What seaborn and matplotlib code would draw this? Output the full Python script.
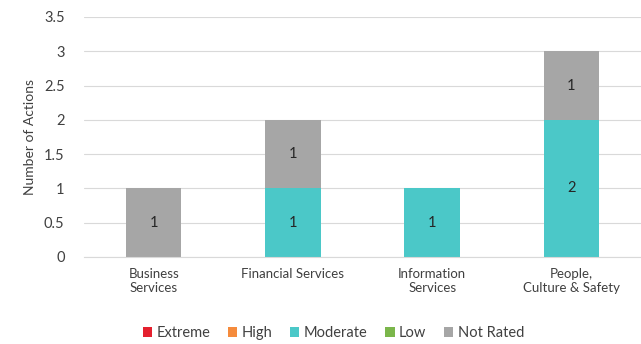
import matplotlib
matplotlib.use("Agg")
import matplotlib.pyplot as plt
import seaborn as sns
import pandas as pd
from matplotlib.patches import Patch

categories = ["Business\nServices", "Financial Services", "Information\nServices", "People,\nCulture & Safety"]
extreme = [0, 0, 0, 0]
high = [0, 0, 0, 0]
moderate = [0, 1, 1, 2]
low = [0, 0, 0, 0]
not_rated = [1, 1, 0, 1]

series_names = ["Extreme", "High", "Moderate", "Low", "Not Rated"]
colors = {"Extreme": "#E4202E", "High": "#F58B3C", "Moderate": "#4BC8C8",
          "Low": "#7BB64B", "Not Rated": "#A6A6A6"}
txt = "#404040"

sns.set_style("white")
plt.rcParams['font.family'] = ['Lato', 'DejaVu Sans']

fig = plt.figure(figsize=(6.41, 3.44), dpi=100)
ax = fig.add_axes([84/641, 1 - 257/344, (641 - 84)/641, 240/344])

df = pd.DataFrame({"cat": categories, "mod": moderate, "nr": not_rated})
df["total"] = df["mod"] + df["nr"]

sns.barplot(data=df, x="cat", y="total", color=colors["Not Rated"], width=0.4,
            saturation=1, ax=ax, edgecolor="none")
sns.barplot(data=df, x="cat", y="mod", color=colors["Moderate"], width=0.4,
            saturation=1, ax=ax, edgecolor="none")

for i, (m, n) in enumerate(zip(moderate, not_rated)):
    if m > 0:
        ax.text(i, m / 2, str(m), ha="center", va="center", fontsize=10.5, color="#262626")
    if n > 0:
        ax.text(i, m + n / 2, str(n), ha="center", va="center", fontsize=10.5, color="#262626")

ax.set_ylim(0, 3.5)
ax.set_xlim(-0.5, 3.5)
ax.set_yticks([0, 0.5, 1, 1.5, 2, 2.5, 3, 3.5])
ax.set_yticklabels(["0", "0.5", "1", "1.5", "2", "2.5", "3", "3.5"])
ax.yaxis.grid(True, color="#D9D9D9", linewidth=0.8)
ax.set_axisbelow(True)
for s in ["top", "right", "left"]:
    ax.spines[s].set_visible(False)
ax.spines["bottom"].set_color("#D9D9D9")
ax.tick_params(axis="both", length=0, labelsize=10.5, colors=txt)
ax.tick_params(axis="y", pad=14)
ax.tick_params(axis="x", pad=8)
for lbl in ax.get_xticklabels():
    lbl.set_fontsize(9.5)
ax.set_xlabel("")
ax.set_ylabel("Number of Actions", fontsize=10, color=txt, labelpad=6)

handles = [Patch(facecolor=colors[s], edgecolor="none", label=s) for s in series_names]
fig.legend(handles=handles, loc="center", bbox_to_anchor=(0.52, 1 - 333/344), ncol=5,
           frameon=False, fontsize=10.5, handlelength=0.65, handleheight=0.65,
           handletextpad=0.3, columnspacing=1.2, labelcolor=txt)

fig.savefig("out.png", dpi=100)
